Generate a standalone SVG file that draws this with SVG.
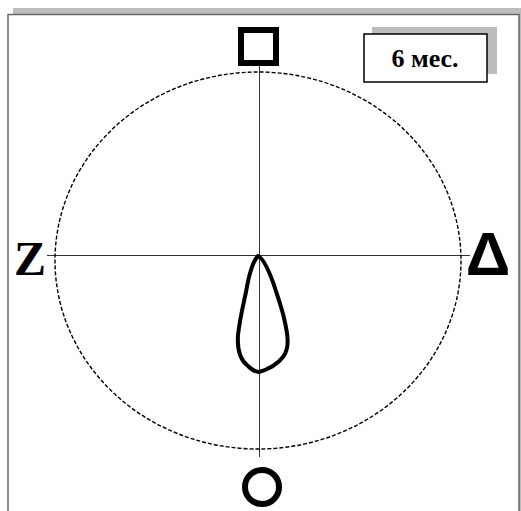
<svg xmlns="http://www.w3.org/2000/svg" width="521" height="511" viewBox="0 0 521 511">
<style>
.shadow{fill:#bcbcbc}
.axis{stroke:#333;stroke-width:1;fill:none}
.mark{fill:none;stroke:#000;stroke-width:6}
.lbl{font-family:"Liberation Serif","Times New Roman",serif;font-weight:bold;fill:#000}
</style>
<rect width="521" height="511" fill="#fff"/>
<g id="frame">
<rect class="shadow" x="13" y="8" width="508" height="6.5"/>
<rect class="shadow" x="518.5" y="8" width="3" height="503"/>
<path d="M8,511 V14.5 H519 V511" fill="#fff" stroke="#666" stroke-width="1.5"/>
</g>
<g id="connectors">
<line class="axis" x1="259.5" y1="66" x2="259.5" y2="457"/>
<line class="axis" x1="47" y1="255.5" x2="470" y2="255.5"/>
<ellipse cx="258" cy="260.5" rx="203" ry="188.5" fill="none" stroke="#000" stroke-width="1.4" stroke-dasharray="4 2"/>
</g>
<g id="label-box">
<rect class="shadow" x="372" y="27" width="125" height="47"/>
<rect x="364" y="34" width="123" height="48" fill="#fff" stroke="#000" stroke-width="1.5"/>
<text class="lbl" x="425" y="67" font-size="26" text-anchor="middle">6 мес.</text>
</g>
<g id="square">
<rect class="mark" x="241" y="30" width="35" height="33"/>
</g>
<g id="circle">
<circle class="mark" cx="262" cy="487" r="17"/>
</g>
<g id="z-label">
<text class="lbl" x="30" y="275" font-size="48" text-anchor="middle">Z</text>
</g>
<g id="delta-label">
<text x="488" y="275" font-size="62" text-anchor="middle" font-family="'Liberation Sans',Arial,sans-serif" font-weight="bold">Δ</text>
</g>
<g id="drop">
<path d="M258,256 C252,262 248,280 246,292 C243,306 240,318 238,335 C237,350 240,360 248,366 C252,370 256,372 259,372 C266,370 276,366 283,357 C290,348 288,335 284,318 C281,305 277,295 274,285 C268,268 263,258 258,256 Z" fill="none" stroke="#000" stroke-width="4" stroke-linejoin="round"/>
</g>
</svg>
